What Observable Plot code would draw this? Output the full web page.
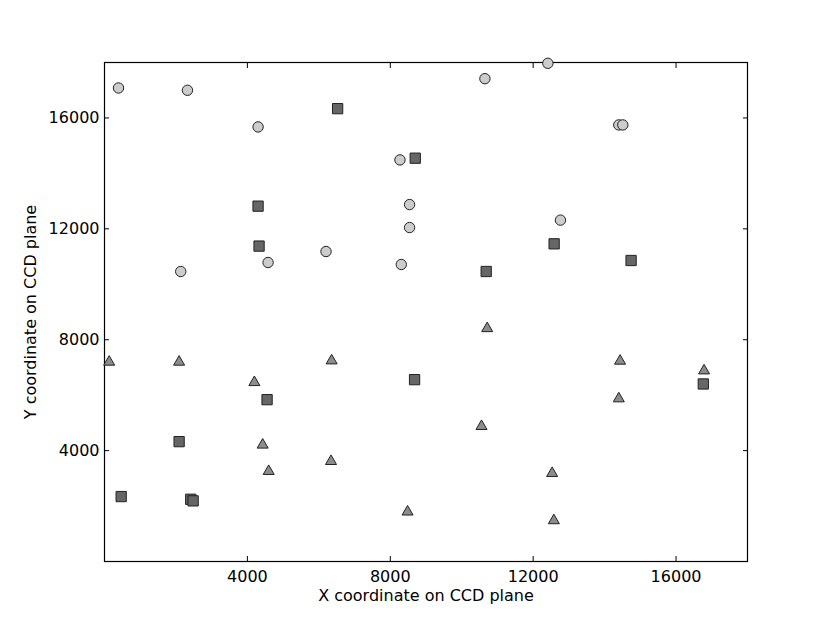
<!DOCTYPE html>
<html>
<head>
<meta charset="utf-8">
<script src="https://cdn.jsdelivr.net/npm/d3@7"></script>
<script src="https://cdn.jsdelivr.net/npm/@observablehq/plot@0.6"></script>
<style>
  html, body { margin: 0; padding: 0; background: #fff; }
  #chart svg { display: block; }
</style>
</head>
<body>
<div id="chart"></div>
<script>
const circleX = [392, 2322, 4299, 8271, 8540, 8540, 6201, 4579, 8308, 2134, 12411, 10649, 14397, 14509, 12764];
const circleY = [17081, 16998, 15676, 14486, 12876, 12047, 11182, 10786, 10714, 10461, 17971, 17416, 15748, 15748, 12314];
const squareX = [6526, 8699, 4299, 4327, 12587, 14741, 10685, 8680, 4551, 2089, 467, 2414, 2481, 16763];
const squareY = [16335, 14548, 12818, 11377, 11459, 10858, 10461, 6559, 5838, 4324, 2342, 2245, 2187, 6404];
const triangleX = [131, 2089, 6358, 4196, 4428, 6341, 4596, 8484, 10713, 14433, 16784, 14397, 10554, 12531, 12579];
const triangleY = [7232, 7232, 7279, 6497, 4241, 3650, 3290, 1827, 8443, 7268, 6919, 5910, 4912, 3218, 1514];
const tickValues = [4000, 8000, 12000, 16000];
const xLabel = "X coordinate on CCD plane";
const yLabel = "Y coordinate on CCD plane";

const circles = circleX.map((x, i) => ({x, y: circleY[i]}));
const squares = squareX.map((x, i) => ({x, y: squareY[i]}));
const triangles = triangleX.map((x, i) => ({x, y: triangleY[i]}));

const chart = Plot.plot({
  width: 830,
  height: 623,
  marginLeft: 104,
  marginRight: 83,
  marginTop: 62,
  marginBottom: 62,
  style: {fontFamily: "DejaVu Sans", fontSize: "16px", color: "#000", background: "#fff"},
  x: {domain: [0, 18000]},
  y: {domain: [0, 18000]},
  marks: [
    Plot.frame({stroke: "#000", strokeWidth: 1.2}),
    Plot.axisX(tickValues, {anchor: "bottom", tickSize: 0, tickPadding: 9, tickFormat: d => String(d), label: null, fontSize: 16}),
    Plot.axisX(tickValues, {anchor: "bottom", tickSize: -5, tickPadding: 0, text: null, label: null}),
    Plot.axisX(tickValues, {anchor: "top", tickSize: -5, tickPadding: 0, text: null, label: null}),
    Plot.axisY(tickValues, {anchor: "left", tickSize: 0, tickPadding: 5, tickFormat: d => String(d), label: null, fontSize: 16}),
    Plot.axisY(tickValues, {anchor: "left", tickSize: -5, tickPadding: 0, text: null, label: null}),
    Plot.axisY(tickValues, {anchor: "right", tickSize: -5, tickPadding: 0, text: null, label: null}),
    Plot.text([xLabel], {frameAnchor: "bottom", dy: 34, text: d => d, fontSize: 16, lineAnchor: "middle", textAnchor: "middle"}),
    Plot.text([yLabel], {frameAnchor: "left", dx: -74, rotate: -90, text: d => d, fontSize: 16, lineAnchor: "middle", textAnchor: "middle"}),
    Plot.dot(circles, {x: "x", y: "y", symbol: "circle", r: 5.2, fill: "#cccccc", stroke: "#222", strokeWidth: 1}),
    Plot.dot(squares, {x: "x", y: "y", symbol: "square", r: 5.8, fill: "#666666", stroke: "#222", strokeWidth: 1}),
    Plot.dot(triangles, {x: "x", y: "y", symbol: "triangle", r: 4.1, fill: "#8c8c8c", stroke: "#222", strokeWidth: 1, dy: 1})
  ]
});
document.getElementById("chart").appendChild(chart);
</script>
</body>
</html>
